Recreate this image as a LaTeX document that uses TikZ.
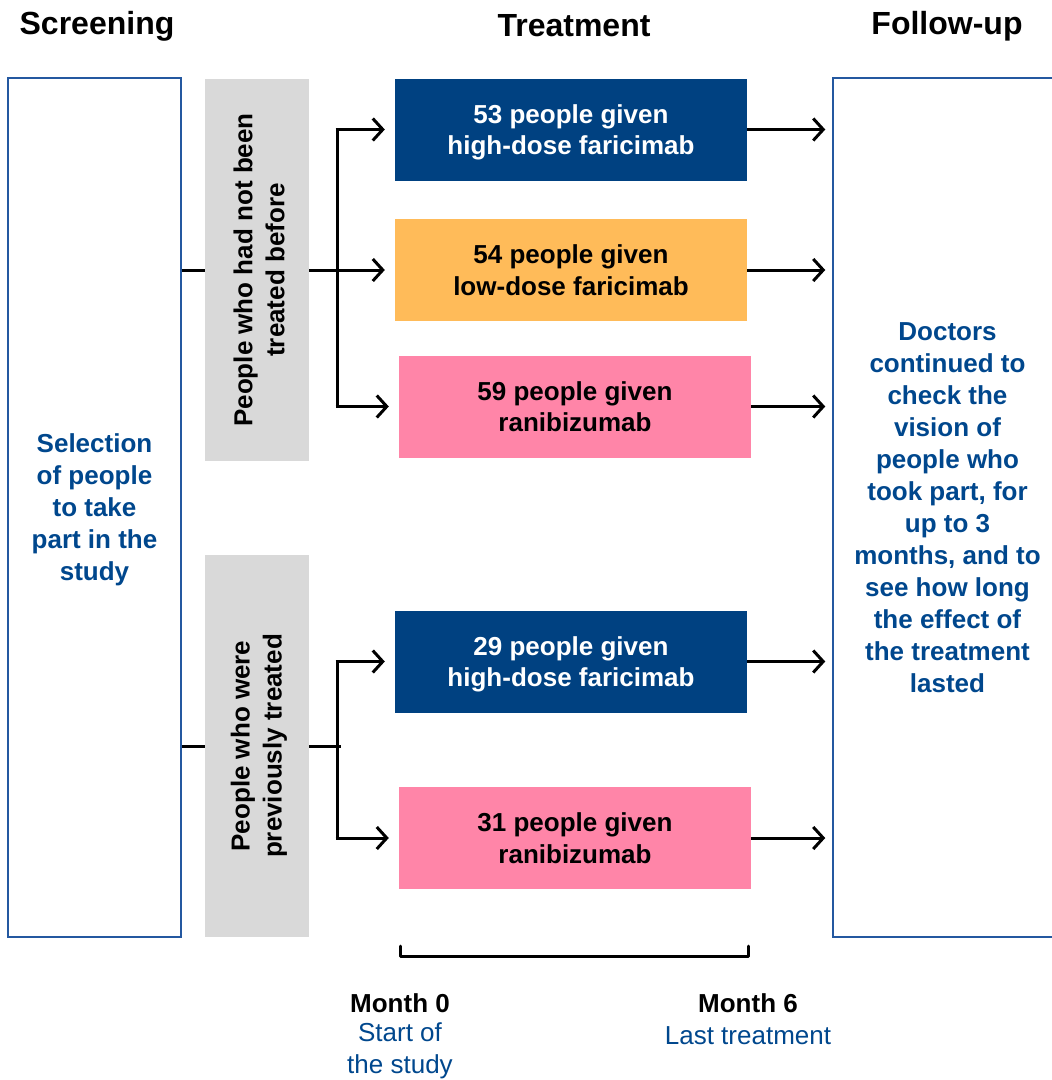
\documentclass[tikz,border=0pt]{standalone}
\usepackage{fontspec}
\setmainfont{Liberation Sans}
\usepackage{xcolor}
\usetikzlibrary{arrows.meta,calc,positioning}
\definecolor{navy}{RGB}{0,65,129}
\definecolor{textblue}{RGB}{0,71,141}
\definecolor{edgeblue}{RGB}{36,88,160}
\definecolor{lowdose}{RGB}{255,187,89}
\definecolor{ranib}{RGB}{255,133,168}
\definecolor{grpgray}{RGB}{217,217,217}
\tikzset{
  head/.style={font=\bfseries\fontsize{32}{38}\selectfont},
  side/.style={draw=edgeblue,line width=1.5pt,text=textblue,align=center,
    font=\bfseries\fontsize{26}{32}\selectfont,minimum height=859pt},
  grp/.style={fill=grpgray,minimum width=104pt,minimum height=382pt},
  grptext/.style={rotate=90,align=center,font=\bfseries\fontsize{26}{32}\selectfont},
  arm/.style={minimum width=352pt,minimum height=102pt,align=center,text depth=-6pt,
    font=\bfseries\fontsize{26}{31.5}\selectfont},
  link/.style={line width=3pt},
  arr/.style={line width=3pt,-{Straight Barb[length=10pt,width=22pt,line width=3pt]}},
  month/.style={font=\bfseries\fontsize{26}{32}\selectfont},
  when/.style={text=textblue,align=center,font=\fontsize{26}{32}\selectfont}
}

\begin{document}
\begin{tikzpicture}[x=1pt,y=-1pt]
\useasboundingbox (0,0) rectangle (1052,1080);
\begin{scope}
\clip (0,0) rectangle (1052,1080);

% Draw headings.
\node[head] (hs) at (97,26) {Screening};
\node[head] (ht) at (574,26) {Treatment};
\node[head] (hf) at (947,26) {Follow-up};

% Draw screening and follow-up boxes.
\node[side,minimum width=173pt,text depth=-3pt] (scr) at (94.5,507.5) {Selection\\of people\\to take\\part in the\\study};
\node[side,minimum width=229pt,text depth=-5pt] (fol) at (947.5,507.5) {Doctors\\continued to\\check the\\vision of\\people who\\took part, for\\up to 3\\months, and to\\see how long\\the effect of\\the treatment\\lasted};

% Draw groups.
\node[grp] (g1) at (257,270) {};
\node[grptext] (g1t) at (259,270) {People who had not been\\treated before};
\node[grp] (g2) at (257,746) {};
\node[grptext] (g2t) at (259,746) {People who were\\previously treated};

% Draw treatment arms.
\node[arm,fill=navy,text=white] (t1) at (571,129.5) {53 people given\\high-dose faricimab};
\node[arm,fill=lowdose] (t2) at (571,270) {54 people given\\low-dose faricimab};
\node[arm,fill=ranib] (t3) at (575,406.5) {59 people given\\ranibizumab};
\node[arm,fill=navy,text=white] (t4) at (571,661.5) {29 people given\\high-dose faricimab};
\node[arm,fill=ranib] (t5) at (575,838) {31 people given\\ranibizumab};

% Draw branches.
\coordinate (j1) at (337,270);
\coordinate (j2) at (337,746);
\draw[link] (scr.east |- g1) -- (g1.west);
\draw[link] (scr.east |- g2) -- (g2.west);
\draw[link] (j1 |- t1) -- (j1 |- t3);
\draw[link] (j2 |- t4) -- (j2 |- t5);
\draw[link] (g2.east) -- ([xshift=4pt]j2);
\draw[arr,shorten >=10pt] (g1.east) -- (t2.west);
\foreach \t in {t1,t3}
\draw[arr,shorten >=10pt] ([xshift=-1.5pt]j1 |- \t) -- (\t.west);
\foreach \t in {t4,t5}
\draw[arr,shorten >=10pt] ([xshift=-1.5pt]j2 |- \t) -- (\t.west);

% Draw arrows to follow-up.
\foreach \t in {t1,t2,t3,t4,t5}
\draw[arr,shorten >=7pt] (\t.east) -- (fol.west |- \t);

% Draw time bracket.
\coordinate (b0) at (400,956);
\coordinate (b6) at (748,956);
\draw[link,line cap=round,line join=round] ([yshift=10pt]b0) -- (b0) -- (b6) -- ([yshift=10pt]b6);
\node[month] (m0) at (400,1003) {Month 0};
\node[when] (w0) at (400,1051) {Start of\\the study};
\node[month] (m6) at (748,1003) {Month 6};
\node[when] (w6) at (748,1036) {Last treatment};
\end{scope}
\end{tikzpicture}
\end{document}
